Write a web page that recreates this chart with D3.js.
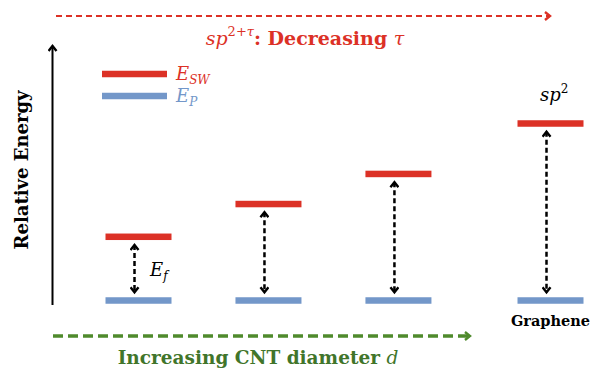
<!DOCTYPE html>
<html>
<head>
<meta charset="utf-8">
<script src="https://cdn.jsdelivr.net/npm/d3@7"></script>
<style>
  body { margin: 0; background: #fff; }
</style>
</head>
<body>
<svg id="main" width="602" height="371"></svg>
<script>
// levels (relative units, graphene SW level = 1)
var systems = ["CNT small d", "CNT medium d", "CNT large d", "Graphene"];
var positions = [1, 2, 3, 4.17];      // order along the diameter axis
var E_SW = [0.36, 0.545, 0.715, 1.0];
var E_P = [0, 0, 0, 0];

var RED = "#dc3126", BLUE = "#7397c9", GREEN = "#4f8a2c", GREEN_TXT = "#41752a";
var FONT = "'DejaVu Serif', serif";

var svg = d3.select("svg#main").attr("font-family", FONT);

var x = d3.scaleLinear().domain([1, 4.17]).range([138.5, 550.5]);
var y = d3.scaleLinear().domain([0, 1]).range([300.5, 123.5]);
var barW = 66, barH = 6.5;

var levels = systems.map(function(s, i) {
    return {name: s, pos: positions[i], sw: E_SW[i], p: E_P[i]};
});

// arrow heads
function chevron(id, color) {
    svg.append("defs").append("marker")
        .attr("id", id)
        .attr("viewBox", "0 0 10 10")
        .attr("refX", 7).attr("refY", 5)
        .attr("markerWidth", 10).attr("markerHeight", 10)
        .attr("markerUnits", "userSpaceOnUse")
        .attr("orient", "auto-start-reverse")
        .append("path")
        .attr("d", "M 2 1 L 7 5 L 2 9")
        .attr("fill", "none")
        .attr("stroke", color)
        .attr("stroke-width", 2.4);
}
chevron("headK", "#000");
chevron("headR", RED);
chevron("headG", GREEN);

// vertical energy axis
svg.append("line")
    .attr("x1", 52.5).attr("x2", 52.5)
    .attr("y1", 305).attr("y2", 46)
    .attr("stroke", "#000").attr("stroke-width", 2)
    .attr("marker-end", "url(#headK)");

svg.append("text")
    .attr("transform", "translate(28,170) rotate(-90)")
    .attr("text-anchor", "middle")
    .attr("font-weight", "bold")
    .attr("font-size", 18)
    .text("Relative Energy");

// top red arrow
svg.append("line")
    .attr("x1", 56).attr("x2", 550)
    .attr("y1", 16).attr("y2", 16)
    .attr("stroke", RED).attr("stroke-width", 2)
    .attr("stroke-dasharray", "6,4")
    .attr("marker-end", "url(#headR)");

var topLabel = svg.append("text")
    .attr("x", 305).attr("y", 45)
    .attr("text-anchor", "middle")
    .attr("fill", RED)
    .attr("font-size", 19);
topLabel.append("tspan").attr("font-style", "italic").text("sp");
topLabel.append("tspan").attr("font-size", 13).attr("dy", -9).text("2+");
topLabel.append("tspan").attr("font-size", 13).attr("font-style", "italic").text("τ");
topLabel.append("tspan").attr("dy", 9).attr("font-weight", "bold").text(": Decreasing ");
topLabel.append("tspan").attr("font-style", "italic").text("τ");

// bottom green arrow
svg.append("line")
    .attr("x1", 53).attr("x2", 470)
    .attr("y1", 336).attr("y2", 336)
    .attr("stroke", GREEN).attr("stroke-width", 3.5)
    .attr("stroke-dasharray", "10,5")
    .attr("marker-end", "url(#headG)");

var botLabel = svg.append("text")
    .attr("x", 258).attr("y", 364)
    .attr("text-anchor", "middle")
    .attr("fill", GREEN_TXT)
    .attr("font-size", 18.5)
    .attr("font-weight", "bold");
botLabel.append("tspan").text("Increasing CNT diameter ");
botLabel.append("tspan").attr("font-style", "italic").attr("font-weight", "normal").text("d");

// gap arrows
svg.selectAll("line.gap").data(levels).join("line")
    .attr("class", "gap")
    .attr("x1", function(d) { return x(d.pos) - 4; })
    .attr("x2", function(d) { return x(d.pos) - 4; })
    .attr("y1", function(d) { return y(d.sw) + barH / 2 + 5; })
    .attr("y2", function(d) { return y(d.p) - barH / 2 - 5; })
    .attr("stroke", "#000").attr("stroke-width", 2.5)
    .attr("stroke-dasharray", "5,3")
    .attr("marker-start", "url(#headK)")
    .attr("marker-end", "url(#headK)");

// levels
svg.selectAll("rect.sw").data(levels).join("rect")
    .attr("class", "sw")
    .attr("x", function(d) { return x(d.pos) - barW / 2; })
    .attr("y", function(d) { return y(d.sw) - barH / 2; })
    .attr("width", barW).attr("height", barH)
    .attr("fill", RED);

svg.selectAll("rect.p").data(levels).join("rect")
    .attr("class", "p")
    .attr("x", function(d) { return x(d.pos) - barW / 2; })
    .attr("y", function(d) { return y(d.p) - barH / 2; })
    .attr("width", barW).attr("height", barH)
    .attr("fill", BLUE);

// labels
var ef = svg.append("text")
    .attr("x", 150).attr("y", 276)
    .attr("font-size", 18).attr("font-style", "italic");
ef.append("tspan").text("E");
ef.append("tspan").attr("font-size", 12).attr("dy", 4).text("f");

var sp2 = svg.append("text")
    .attr("x", 540).attr("y", 101)
    .attr("font-size", 18).attr("font-style", "italic");
sp2.append("tspan").text("sp");
sp2.append("tspan").attr("font-size", 12).attr("dy", -8).attr("font-style", "normal").text("2");

svg.append("text")
    .attr("x", x(4.17)).attr("y", 326)
    .attr("text-anchor", "middle")
    .attr("font-size", 14.5).attr("font-weight", "bold")
    .text("Graphene");

// legend
var legend = [{label: "E", sub: "SW", color: RED, y: 74}, {label: "E", sub: "P", color: BLUE, y: 96}];
var lg = svg.selectAll("g.lg").data(legend).join("g").attr("class", "lg");
lg.append("rect")
    .attr("x", 102).attr("y", function(d) { return d.y - barH / 2; })
    .attr("width", 65).attr("height", barH)
    .attr("fill", function(d) { return d.color; });
var lt = lg.append("text")
    .attr("x", 176).attr("y", function(d) { return d.y + 6; })
    .attr("fill", function(d) { return d.color; })
    .attr("font-size", 18).attr("font-style", "italic");
lt.append("tspan").text(function(d) { return d.label; });
lt.append("tspan").attr("font-size", 12).attr("dy", 4).text(function(d) { return d.sub; });
</script>
</body>
</html>
